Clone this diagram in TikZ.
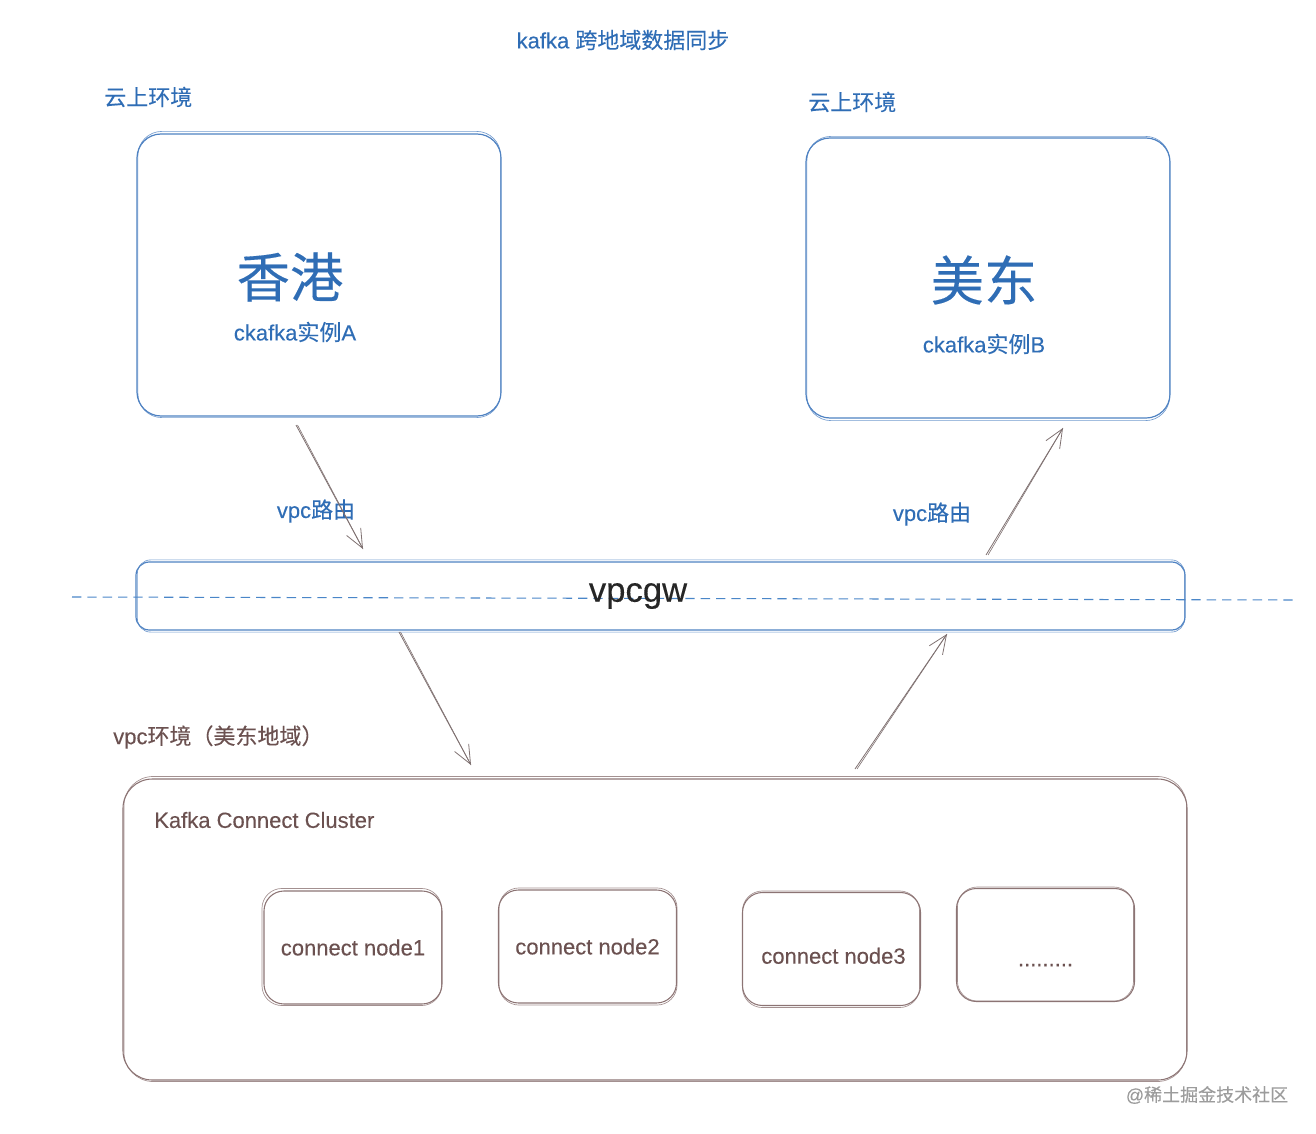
\documentclass[tikz,border=0pt]{standalone}
\usepackage{fontspec}
\setmainfont{Liberation Sans}[FakeBold=0.25]
\newfontfamily\cjk{Noto Sans CJK SC}[FakeBold=0.2]
\usetikzlibrary{arrows.meta}
\definecolor{tblue}{HTML}{2F6DB5}
\definecolor{bstroke}{HTML}{4F82C2}
\definecolor{dstroke}{HTML}{4A86C8}
\definecolor{brtext}{HTML}{6B5150}
\definecolor{brstroke}{HTML}{8C7474}
\definecolor{arrcol}{HTML}{7F7171}
\definecolor{wmark}{HTML}{9C9C9C}
\begin{document}
\begin{tikzpicture}[x=0.75pt,y=-0.75pt,
  bluebox/.style={draw=bstroke, line width=0.9pt, inner sep=0pt},
  brownbox/.style={draw=brstroke, line width=0.8pt, inner sep=0pt},
  sketchb/.style={draw=bstroke, line width=0.5pt, opacity=0.8},
  sketchr/.style={draw=brstroke, line width=0.5pt, opacity=0.8},
  bluetxt/.style={text=tblue, font=\fontsize{16.5}{20}\selectfont, inner sep=0pt},
  browntxt/.style={text=brtext, font=\fontsize{16.5}{20}\selectfont, inner sep=0pt},
  bigtxt/.style={text=tblue, font=\fontsize{40}{44}\selectfont\cjk, inner sep=0pt},
  arr/.style={draw=arrcol, line width=0.6pt, -{Straight Barb[length=14pt,width=12pt]}},
  arrsk/.style={draw=arrcol, line width=0.45pt},
  dline/.style={draw=dstroke, line width=0.8pt, dash pattern=on 7pt off 4.5pt},
  nodebox/.style={brownbox, rounded corners=15pt, minimum width=133.5pt, minimum height=84.75pt,
     text=brtext, font=\fontsize{16.5}{20}\selectfont}
]
\useasboundingbox (0,0) rectangle (1316,1134);

% title and region labels
\node[bluetxt] (title) at (623,40) {kafka {\cjk 跨地域数据同步}};
\node[bluetxt, anchor=west] (envA) at (104,97) {\cjk 云上环境};
\node[bluetxt, anchor=west] (envB) at (808,102) {\cjk 云上环境};

% boxes A and B
\node[bluebox, rounded corners=18pt, minimum width=273pt, minimum height=211.5pt] (A) at (319,275) {};
\draw[sketchb, rounded corners=18pt] ([shift={(1.5,1)}]A.south west) rectangle ([shift={(-1,-2)}]A.north east);
\node[bigtxt] (hk) at (290,277) {香港};
\node[bluetxt] (ckA) at (295,332) {ckafka{\cjk 实例}A};

\node[bluebox, rounded corners=18pt, minimum width=273pt, minimum height=210pt] (B) at (988,278) {};
\draw[sketchb, rounded corners=18pt] ([shift={(1.5,2)}]B.south west) rectangle ([shift={(-1,-1)}]B.north east);
\node[bigtxt] (us) at (984,280) {美东};
\node[bluetxt] (ckB) at (984,344) {ckafka{\cjk 实例}B};

% vpcgw
\node[bluebox, rounded corners=10pt, minimum width=786.75pt, minimum height=51pt] (gw) at (660.5,596) {};
\draw[sketchb, rounded corners=10pt] ([shift={(2,1.5)}]gw.south west) rectangle ([shift={(-1,-1.5)}]gw.north east);
\coordinate (dl) at (72,597);
\coordinate (dr) at (1296,600);
\draw[dline] (dl) -- (dr);
\node[text=black!85, font=\fontsize{26}{30}\selectfont, inner sep=0pt] (gwl) at (638,596) {vpcgw};

% route labels
\node[bluetxt] (r1) at (316,511) {vpc{\cjk 路由}};
\node[bluetxt] (r2) at (932,514) {vpc{\cjk 路由}};

% arrows
\coordinate (a1s) at (296,425); \coordinate (a1e) at (363,549);
\coordinate (a2s) at (986,555); \coordinate (a2e) at (1063,428);
\coordinate (a3s) at (399,632); \coordinate (a3e) at (471,765);
\coordinate (a4s) at (855,769); \coordinate (a4e) at (947,634);
\draw[arr] (a1s) -- (a1e);
\draw[arrsk] ([shift={(1.5,0)}]a1s) -- (a1e);
\draw[arr] (a2s) -- (a2e);
\draw[arrsk] ([shift={(2,0)}]a2s) -- (a2e);
\draw[arr] (a3s) -- (a3e);
\draw[arrsk] ([shift={(1.5,0)}]a3s) -- (a3e);
\draw[arr] (a4s) -- (a4e);
\draw[arrsk] ([shift={(2,0)}]a4s) -- (a4e);

% vpc environment
\node[browntxt, anchor=west] (vpcenv) at (113,737) {vpc{\cjk 环境（美东地域）}};
\node[brownbox, rounded corners=22pt, minimum width=798pt, minimum height=225.75pt] (C) at (655,929.5) {};
\draw[sketchr, rounded corners=22pt] ([shift={(1.5,1)}]C.south west) rectangle ([shift={(-1,-2)}]C.north east);
\node[browntxt, anchor=west] (kcc) at (154,820) {Kafka Connect Cluster};

\node[nodebox] (n1) at (353,947.5) {connect node1};
\draw[sketchr, rounded corners=15pt] ([shift={(-1.5,1)}]n1.south west) rectangle ([shift={(-1,-2)}]n1.north east);
\node[nodebox] (n2) at (587.5,946.5) {connect node2};
\draw[sketchr, rounded corners=15pt] ([shift={(1,1.5)}]n2.south west) rectangle ([shift={(0,-1.5)}]n2.north east);
\node[nodebox] (n3) at (831.5,949) {\raisebox{-11pt}[0pt][0pt]{\hspace{3pt}connect node3}};
\draw[sketchr, rounded corners=15pt] ([shift={(0.5,1.5)}]n3.south west) rectangle ([shift={(-1.5,-1)}]n3.north east);
\node[nodebox] (n4) at (1045.5,945) {\raisebox{-16pt}[0pt][0pt]{.........}};
\draw[sketchr, rounded corners=15pt] ([shift={(1.5,-1)}]n4.south west) rectangle ([shift={(-1.5,-1)}]n4.north east);

% watermark
\node[text=wmark, font=\fontsize{13.5}{16}\selectfont, inner sep=0pt] (wm) at (1207,1095) {@{\cjk 稀土掘金技术社区}};
\end{tikzpicture}
\end{document}
